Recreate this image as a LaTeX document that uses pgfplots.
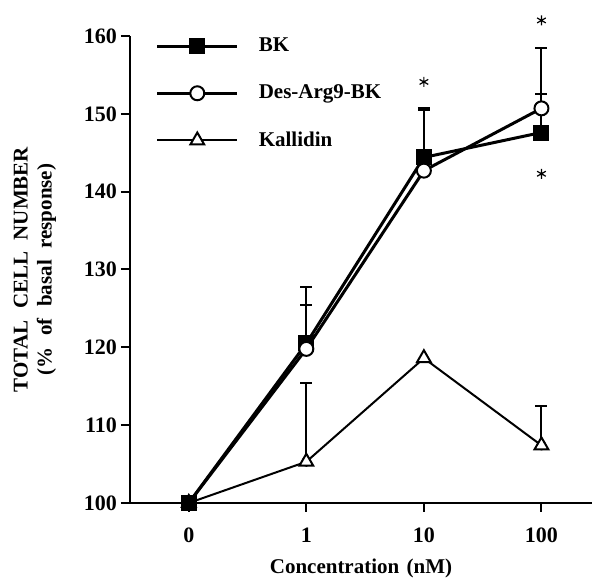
\documentclass[border=0pt]{standalone}
\usepackage{fontspec}
\setmainfont{Liberation Serif}
\usepackage{pgfplots}
\pgfplotsset{compat=1.18}

\begin{document}
\begin{tikzpicture}
\begin{axis}[
    name=ax,
    scale only axis, width=231pt, height=233.5pt,
    xmin=-0.5, xmax=3.43, ymin=100, ymax=160,
    clip=false,
    axis lines=left, axis line style={-, line width=1pt},
    xtick={0,1,2,3}, xticklabels={0,1,10,100},
    ytick={100,110,...,160},
    tick align=outside, major tick length=4.5pt,
    tick style={line width=1pt, black},
    /pgf/number format/assume math mode=true,
    tick label style={font=\fontsize{11}{13}\selectfont\bfseries},
    xticklabel style={yshift=-4.5pt},
    yticklabel style={xshift=1.5pt},
    xlabel={Concentration\hspace{0.35em}(nM)},
    ylabel={TOTAL\hspace{0.3em} CELL\hspace{0.3em} NUMBER\\(\%\hspace{0.3em} of\hspace{0.3em} basal\hspace{0.3em} response)},
    label style={font=\fontsize{10.5}{12}\selectfont\bfseries, align=center},
    ylabel shift=7pt, xlabel shift=1pt,
    legend cell align=left,
    legend style={at={(rel axis cs:0.055,1.005)}, anchor=north west, draw=none, fill=none,
      font=\fontsize{10.5}{12}\selectfont\bfseries, row sep=11pt, inner sep=0pt,
      nodes={inner sep=2pt}},
    /tikz/every odd column/.append style={column sep=8pt},
    legend image code/.code={\draw[mark repeat=2, mark phase=2, #1]
      plot coordinates {(0pt,0pt) (20pt,0pt) (40pt,0pt)};},
  ]
  % error bars (upper only)
  \addplot[forget plot, only marks, mark=none, line width=1pt,
    error bars/.cd, y dir=plus, y explicit,
    error bar style={line width=1pt},
    error mark options={rotate=90, mark size=3pt, line width=1pt}]
    coordinates {(1,120.5) +- (0,7.3) (3,147.6) +- (0,5.0)
                 (1,119.8) +- (0,5.7) (3,150.7) +- (0,7.8)
                 (1,105.3) +- (0,10.1) (3,107.4) +- (0,5.1)};
  \addplot[forget plot, only marks, mark=none, line width=1pt,
    error bars/.cd, y dir=plus, y explicit,
    error bar style={line width=1pt},
    error mark options={rotate=90, mark size=3pt, line width=2pt}]
    coordinates {(2,144.4) +- (0,6.2)};
  \addplot[black, line width=1.5pt, mark=square*, mark size=3.5pt,
    mark options={solid, line width=1pt}]
    coordinates {(0,100) (1,120.5) (2,144.4) (3,147.6)};
  \addlegendentry{BK}
  \addplot[black, line width=1.5pt, mark=*, mark size=3.5pt,
    mark options={solid, fill=white, line width=1pt}]
    coordinates {(0,100) (1,119.8) (2,142.7) (3,150.7)};
  \addlegendentry{Des-Arg9-BK}
  \addplot[black, line width=1pt, mark=triangle*, mark size=4pt,
    mark options={solid, fill=white, line width=1pt}]
    coordinates {(0,100) (1,105.3) (2,118.6) (3,107.4)};
  \addlegendentry{Kallidin}
  % significance asterisks
  \addplot[forget plot, only marks, mark=asterisk, mark size=2.5pt, line width=0.6pt]
    coordinates {(2,154.1) (3,162) (3,142.3)};
  % redraw BK origin square on top
  \addplot[forget plot, only marks, mark=square*, mark size=3.5pt]
    coordinates {(0,100)};
\end{axis}
% page frame with the original's margins
\path (ax.south west) +(-65pt,-38pt) rectangle +(232pt,251.5pt);
\end{tikzpicture}
\end{document}
